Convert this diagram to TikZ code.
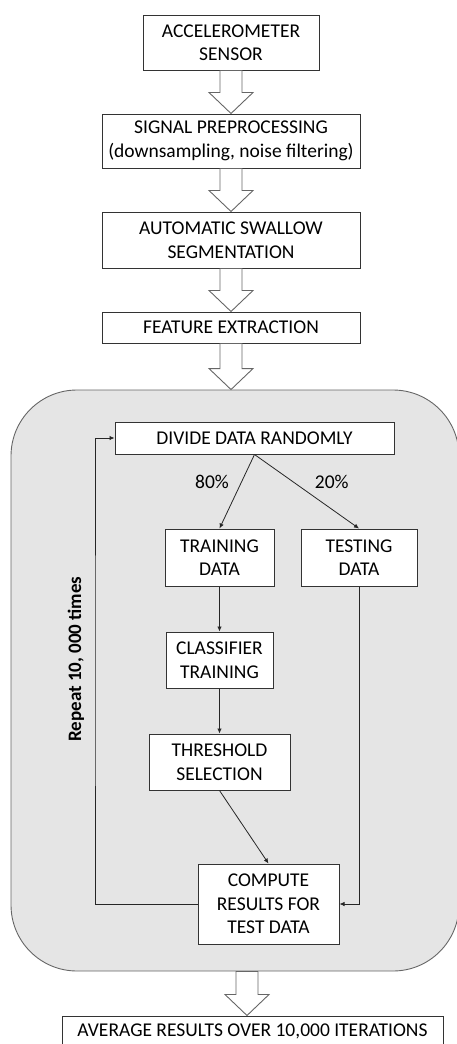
\documentclass[tikz,border=0pt]{standalone}
\usepackage{fontspec}
\setmainfont{Carlito}
\usepackage{xcolor}
\definecolor{gr}{gray}{0.9}
\definecolor{edge}{gray}{0.2}
\usetikzlibrary{calc, arrows.meta}

\begin{document}
\begin{tikzpicture}[x=1pt, y=1pt,
box/.style={draw=edge, line width=1pt, fill=white, align=center, inner sep=0pt, text=black, font=\fontsize{19.5}{23.5}\selectfont},
fat/.style={draw=black!60, line width=0.9pt, fill=white, line join=miter},
thin/.style={draw=black!85, line width=0.8pt, -{Latex[length=5pt, width=4.5pt]}},
lbl/.style={text=black, font=\fontsize{19.5}{23.5}\selectfont}]
\path[use as bounding box, clip] (0,0) rectangle (457,-1044);
\node[draw=black!60, fill=gr, rounded corners=66pt, minimum width=448pt, minimum height=581pt, line width=0.9pt] (loop) at (235,-680.5) {};
\node[box, minimum width=176pt, minimum height=55pt] (acc) at (231,-42.5) {ACCELEROMETER\\SENSOR};
\node[box, minimum width=258pt, minimum height=54pt] (prep) at (231,-141) {SIGNAL PREPROCESSING\\(downsampling, noise filtering)};
\node[box, minimum width=258pt, minimum height=56pt] (seg) at (231,-240) {AUTOMATIC SWALLOW\\SEGMENTATION};
\node[box, minimum width=258pt, minimum height=31pt] (feat) at (231,-327.5) {FEATURE EXTRACTION};
\node[box, minimum width=279pt, minimum height=32pt] (divide) at (254.5,-438) {DIVIDE DATA RANDOMLY};
\node[box, minimum width=109pt, minimum height=57pt] (train) at (219.5,-557.5) {TRAINING\\DATA};
\node[box, minimum width=116pt, minimum height=57pt] (test) at (359,-557.5) {TESTING\\DATA};
\node[box, minimum width=107pt, minimum height=56pt] (clf) at (219.5,-660) {CLASSIFIER\\TRAINING};
\node[box, minimum width=141pt, minimum height=56pt] (thr) at (219.5,-762) {THRESHOLD\\SELECTION};
\node[box, minimum width=141pt, minimum height=80pt] (comp) at (268.5,-904) {COMPUTE\\RESULTS FOR\\TEST DATA};
\node[box, minimum width=381pt, minimum height=31pt] (avg) at (252.5,-1031.5) {AVERAGE RESULTS OVER 10,000 ITERATIONS};
\node[lbl, font=\bfseries\fontsize{19}{23}\selectfont, rotate=90] (rep) at (76,-659) {Repeat 10, 000 times};
\coordinate (back) at (95,-670);
% block arrows
\foreach \a/\b/\tx in {acc/prep/231, prep/seg/231, seg/feat/231, feat/loop/231, loop/avg/247}{
\draw[fat] let \p1=(\a.south), \p2=(\b.north) in (\tx pt-11pt,\y1) -- (\tx pt-11pt,\y2+21pt) -- (\tx pt-22pt,\y2+21pt) -- (\tx pt,\y2) -- (\tx pt+22pt,\y2+21pt) -- (\tx pt+11pt,\y2+21pt) -- (\tx pt+11pt,\y1) -- cycle;
}
\draw[thin] (divide.south) -- node[lbl, pos=0.37, left=9pt] (p80) {80\%} (train.north);
\draw[thin] (divide.south) -- node[lbl, pos=0.37, right=18pt] (p20) {20\%} (test.north);
\draw[thin] (train) -- (clf);
\draw[thin] (clf) -- (thr);
\draw[thin] (thr.south) -- (comp.north);
\draw[thin] (test.south) |- (comp.east);
\draw[thin] (comp.west) -| (back) |- (divide.west);
\end{tikzpicture}
\end{document}
